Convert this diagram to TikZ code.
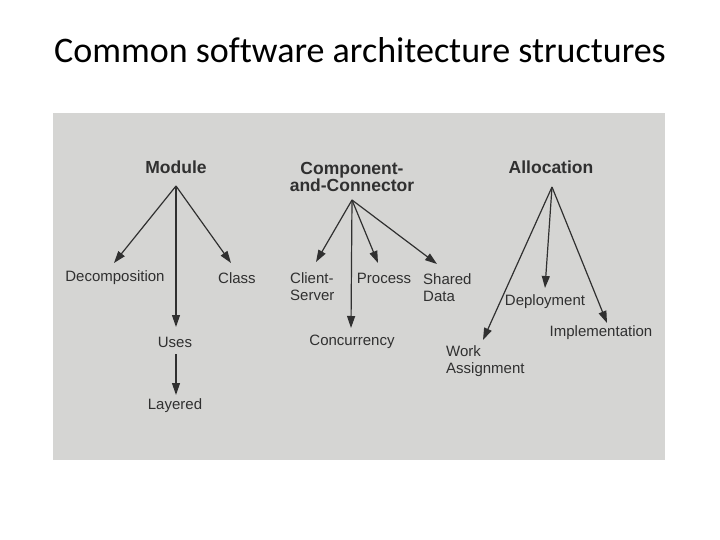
\documentclass[tikz,border=0pt]{standalone}
\usepackage{fontspec}
\setmainfont[Ligatures={NoCommon}]{Carlito}
\newfontfamily\diag{Liberation Sans}
\usetikzlibrary{arrows.meta}
\definecolor{bggray}{RGB}{213,213,211}
\definecolor{ink}{RGB}{48,48,48}
\begin{document}
\begin{tikzpicture}[x=1pt,y=-1pt,
 lbl/.style={font=\diag\fontsize{15}{17}\selectfont, text=ink, inner sep=0pt, align=left},
 head/.style={font=\diag\bfseries\fontsize{17.5}{17}\selectfont, text=ink, inner sep=0pt, align=center},
 arr/.style={draw=ink, line width=1.2pt, -{Triangle[length=12pt,width=8pt]}}]
\useasboundingbox (0,0) rectangle (720,540);
\fill[white] (0,0) rectangle (720,540);
\node[font=\fontsize{36}{40}\selectfont] (title) at (360,50) {Common software architecture structures};
\fill[bggray] (53,113) rectangle (665,460);
% Module
\node[head] (module) at (176,167) {Module};
\node[lbl] (decomp) at (115,278) {Decomposition};
\node[lbl] (class) at (237,278) {Class};
\node[lbl] (uses) at (175,342) {Uses};
\node[lbl] (layered) at (175,406) {Layered};
\coordinate (msrc) at (176,186);
\coordinate (tdecomp) at (114,263);
\coordinate (tclass) at (231,263);
\coordinate (tuses) at (176,327);
\coordinate (lsrc) at (176,354);
\coordinate (tlayered) at (176,395);
\draw[arr] (msrc) -- (tdecomp);
\draw[arr] (msrc) -- (tclass);
\draw[arr] (msrc) -- (tuses);
\draw[arr] (lsrc) -- (tlayered);
% Component-and-Connector
\node[head] (cc) at (352,176.5) {Component-\\and-Connector};
\node[lbl, anchor=west] (client) at (290,286.5) {Client-\\Server};
\node[lbl] (process) at (384,278) {Process};
\node[lbl, anchor=west] (shared) at (423,287.5) {Shared\\Data};
\node[lbl] (concur) at (352,342) {Concurrency};
\coordinate (csrc) at (352,200);
\coordinate (tclient) at (316,262);
\coordinate (tprocess) at (378,263);
\coordinate (tshared) at (437,264);
\coordinate (tconcur) at (351,328);
\draw[arr] (csrc) -- (tclient);
\draw[arr] (csrc) -- (tprocess);
\draw[arr] (csrc) -- (tshared);
\draw[arr] (csrc) -- (tconcur);
% Allocation
\node[head] (alloc) at (551,167) {Allocation};
\node[lbl, anchor=west] (work) at (446,361.5) {Work\\Assignment};
\node[lbl] (deploy) at (545,302) {Deployment};
\node[lbl] (impl) at (601,333) {Implementation};
\coordinate (asrc) at (552,187);
\coordinate (twork) at (483,340);
\coordinate (tdeploy) at (545,288);
\coordinate (timpl) at (607,323);
\draw[arr] (asrc) -- (twork);
\draw[arr] (asrc) -- (tdeploy);
\draw[arr] (asrc) -- (timpl);
\end{tikzpicture}
\end{document}
